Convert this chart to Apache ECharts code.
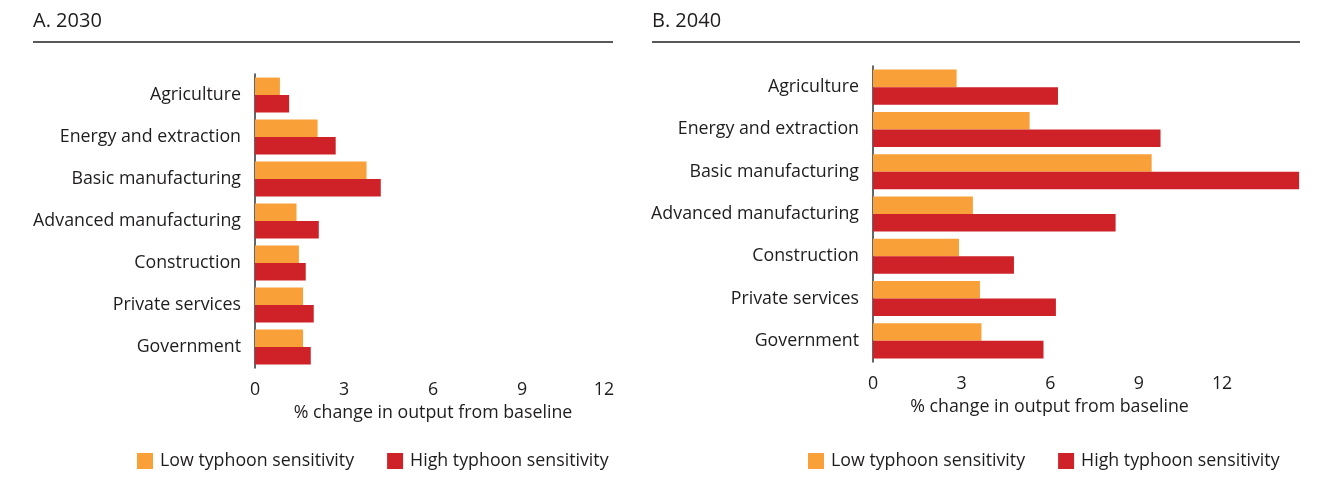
<!DOCTYPE html>
<html>
<head>
<meta charset="utf-8">
<script src="https://cdn.jsdelivr.net/npm/echarts@6/dist/echarts.min.js"></script>
<style>html,body{margin:0;padding:0;background:#fff;}#c{width:1326px;height:481px;}</style>
</head>
<body>
<div id="c"></div>
<script>
const categories = ['Agriculture', 'Energy and extraction', 'Basic manufacturing', 'Advanced manufacturing', 'Construction', 'Private services', 'Government'];
const low2030 = [0.84, 2.11, 3.76, 1.40, 1.48, 1.62, 1.62];
const high2030 = [1.15, 2.72, 4.24, 2.15, 1.71, 1.98, 1.88];
const low2040 = [2.83, 5.30, 9.43, 3.38, 2.91, 3.62, 3.67];
const high2040 = [6.26, 9.73, 14.42, 8.21, 4.77, 6.19, 5.77];
const xTickLabels = [0, 3, 6, 9, 12];
const panelTitles = ['A. 2030', 'B. 2040'];
const seriesNames = ['Low typhoon sensitivity', 'High typhoon sensitivity'];
const axisName = '% change in output from baseline';

const FONT = '"Open Sans", "Noto Sans", sans-serif';
const TXT = '#1f1c1d';
const FW = 500;
const FS = 17.8;
const ORANGE = '#f9a038';
const RED = '#ce2228';

function labelFmt(v) {
  if (xTickLabels.indexOf(v) < 0) return '';
  if (v === 12) return '{s|12}';
  return String(v);
}
function xAxis(idx, max, shiftPad, namePad) {
  return {
    type: 'value', gridIndex: idx, min: 0, max: max, interval: 3,
    axisLine: {show: false}, axisTick: {show: false}, splitLine: {show: false},
    axisLabel: {
      fontSize: FS, fontWeight: FW, color: TXT, fontFamily: FONT, margin: 13,
      showMaxLabel: idx === 0, formatter: labelFmt,
      rich: {s: {fontSize: FS, fontWeight: FW, color: TXT, fontFamily: FONT, padding: [0, shiftPad, 0, 0]}}
    },
    name: axisName, nameLocation: 'middle', nameGap: 35,
    nameTextStyle: {fontSize: FS, fontWeight: FW, color: TXT, fontFamily: FONT, padding: [0, namePad, 0, 0]}
  };
}
function yAxis(idx) {
  return {
    type: 'category', gridIndex: idx, data: categories, inverse: true,
    axisLine: {show: true, lineStyle: {color: '#333', width: 1.5}},
    axisTick: {show: false},
    axisLabel: {fontSize: FS, fontWeight: FW, color: TXT, fontFamily: FONT, margin: 14}
  };
}
function bar(name, data, idx, color) {
  return {
    name: name, type: 'bar', data: data, xAxisIndex: idx, yAxisIndex: idx,
    barGap: '0%', barCategoryGap: '17%', itemStyle: {color: color},
    emphasis: {disabled: true}
  };
}
function legend(left) {
  return {
    left: left, top: 452, padding: 0, icon: 'rect', itemWidth: 16, itemHeight: 16, itemGap: 33,
    data: seriesNames, selectedMode: false,
    textStyle: {fontSize: FS, fontWeight: FW, color: TXT, fontFamily: FONT, padding: [0, 0, 0, 2]}
  };
}

const chart = echarts.init(document.getElementById('c'), null, {renderer: 'canvas'});
chart.setOption({
  animation: false,
  backgroundColor: '#fff',
  title: [
    {text: panelTitles[0], left: 33, top: 11, padding: 0, textStyle: {fontSize: 20, fontWeight: FW, color: TXT, fontFamily: FONT}},
    {text: panelTitles[1], left: 652, top: 11, padding: 0, textStyle: {fontSize: 20, fontWeight: FW, color: TXT, fontFamily: FONT}}
  ],
  graphic: [
    {type: 'line', shape: {x1: 33, y1: 42, x2: 613, y2: 42}, style: {stroke: '#222', lineWidth: 1.5}, silent: true},
    {type: 'line', shape: {x1: 652, y1: 42, x2: 1300, y2: 42}, style: {stroke: '#222', lineWidth: 1.5}, silent: true}
  ],
  legend: [legend(137), legend(808)],
  grid: [
    {left: 255, top: 74, width: 356, height: 294},
    {left: 873, top: 66, width: 427, height: 296}
  ],
  xAxis: [xAxis(0, 12, 14, 0), xAxis(1, 14.45, 11, 74)],
  yAxis: [yAxis(0), yAxis(1)],
  series: [
    bar(seriesNames[0], low2030, 0, ORANGE),
    bar(seriesNames[1], high2030, 0, RED),
    bar(seriesNames[0], low2040, 1, ORANGE),
    bar(seriesNames[1], high2040, 1, RED)
  ]
});
</script>
</body>
</html>
